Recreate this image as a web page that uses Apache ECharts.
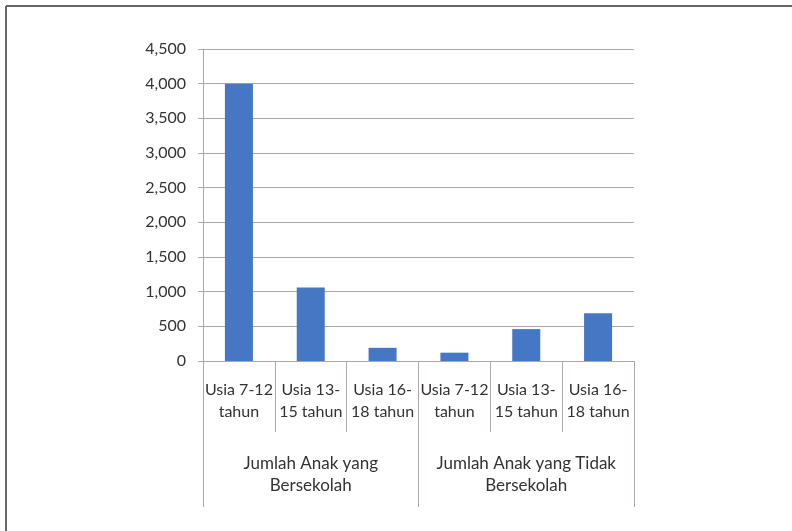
<!DOCTYPE html>
<html>
<head>
<meta charset="utf-8">
<script src="https://cdn.jsdelivr.net/npm/echarts@6/dist/echarts.min.js"></script>
<style>
html,body{margin:0;padding:0;background:#fff;}
#c{width:792px;height:531px;}
</style>
</head>
<body>
<div id="c"></div>
<script>
var categories = ['Usia 7-12\ntahun', 'Usia 13-\n15 tahun', 'Usia 16-\n18 tahun', 'Usia 7-12\ntahun', 'Usia 13-\n15 tahun', 'Usia 16-\n18 tahun'];
var groups = ['Jumlah Anak yang\nBersekolah', 'Jumlah Anak yang Tidak\nBersekolah'];
var values = [4000, 1060, 190, 120, 460, 690];
var yMin = 0, yMax = 4500, yStep = 500;

var txt = '#333333';
var gridCol = '#b0a6a6';
var font = 'Lato';

var chart = echarts.init(document.getElementById('c'), null, {renderer: 'canvas'});
chart.setOption({
  animation: false,
  backgroundColor: '#ffffff',
  grid: {left: 203, right: 158, top: 49, bottom: 170, containLabel: false},
  graphic: [
    {type: 'line', shape: {x1: 6, y1: 6, x2: 6, y2: 531}, style: {stroke: '#666', lineWidth: 2}},
    {type: 'line', shape: {x1: 6, y1: 6, x2: 792, y2: 6}, style: {stroke: '#666', lineWidth: 2}}
  ],
  xAxis: [
    {
      type: 'category', data: categories, position: 'bottom',
      axisLine: {show: true, lineStyle: {color: gridCol, width: 1}},
      axisTick: {show: true, interval: 0, length: 71, lineStyle: {color: gridCol}},
      axisLabel: {interval: 0, margin: 18, color: txt, fontFamily: font, fontSize: 16, lineHeight: 22}
    },
    {
      type: 'category', data: groups, position: 'bottom',
      axisLine: {show: false},
      axisTick: {show: true, interval: 0, length: 146, lineStyle: {color: gridCol}},
      axisLabel: {interval: 0, margin: 92, color: txt, fontFamily: font, fontSize: 17, lineHeight: 22}
    }
  ],
  yAxis: {
    type: 'value', min: yMin, max: yMax, interval: yStep,
    axisLine: {show: true, lineStyle: {color: gridCol}},
    axisTick: {show: true, length: 5, lineStyle: {color: gridCol}},
    splitLine: {show: true, lineStyle: {color: gridCol, width: 1}},
    axisLabel: {margin: 17, color: txt, fontFamily: font, fontSize: 16,
      formatter: function (v) { return v.toLocaleString('en-US'); }}
  },
  series: [{
    type: 'bar', xAxisIndex: 0, data: values, barWidth: '39%',
    itemStyle: {color: '#4677c4'}
  }]
});
</script>
</body>
</html>
